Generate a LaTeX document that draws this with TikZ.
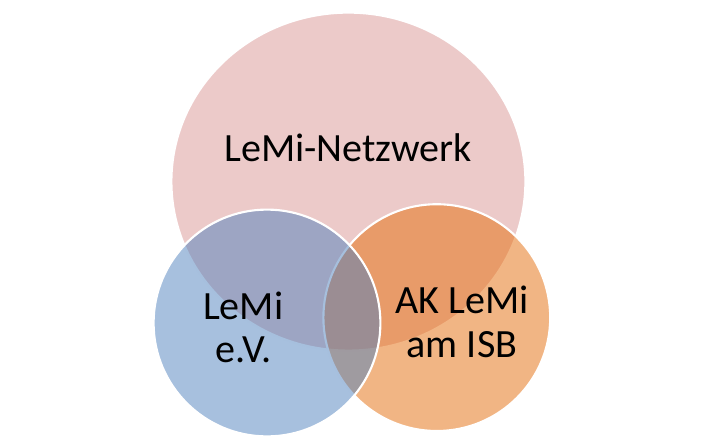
\documentclass[tikz,border=0pt]{standalone}
\usepackage{fontspec}
\usetikzlibrary{shapes.geometric}
\setmainfont{Carlito}
\definecolor{netzred}{HTML}{C0504D}
\definecolor{vereinblue}{HTML}{4F81BD}
\definecolor{isborange}{HTML}{E46C0A}
\tikzset{
  bubble/.style={circle,draw=white,line width=1.5pt,inner sep=0pt,outer sep=0pt,fill opacity=0.5},
  bubbletext/.style={align=center,text=black,font=\fontsize{28.5}{31}\selectfont}
}
\begin{document}
\begin{tikzpicture}
    \useasboundingbox (0,0) rectangle (18,10.9);
    \node[bubble,ellipse,fill=netzred,fill opacity=0.3,minimum width=8.85cm,minimum height=8.45cm] (netzwerk) at (8.71,6.36) {};
    \node[bubble,fill=isborange,minimum size=5.67cm] (isb) at (10.92,2.96) {};
    \node[bubble,fill=vereinblue,minimum size=5.67cm] (verein) at (6.675,2.825) {};
    \node[bubbletext] (netzwerktext) at (8.7,7.2) {LeMi-Netzwerk};
    \node[bubbletext] (vereintext) at (6.08,2.72) {LeMi\\e.V.};
    \node[bubbletext] (isbtext) at (11.55,2.86) {AK LeMi\\am ISB};
\end{tikzpicture}
\end{document}
